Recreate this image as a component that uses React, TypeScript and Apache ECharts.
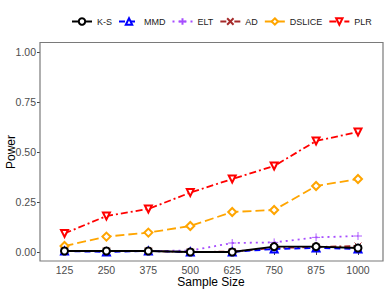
import React, { useEffect, useRef } from "react";
import * as echarts from "echarts";

const sampleSizes = ["125", "250", "375", "500", "625", "750", "875", "1000"];
const yTicks = [0, 0.25, 0.5, 0.75, 1];

const ksValues = [0.005, 0.005, 0.005, 0.0, 0.0, 0.027, 0.027, 0.02];
const mmdValues = [0.005, 0.0, 0.005, 0.0, 0.0, 0.015, 0.02, 0.015];
const eltValues = [0.005, 0.005, 0.005, 0.007, 0.045, 0.048, 0.073, 0.08];
const adValues = [0.005, 0.005, 0.005, 0.0, 0.002, 0.02, 0.025, 0.03];
const dsliceValues = [0.03, 0.077, 0.097, 0.13, 0.2, 0.21, 0.33, 0.365];
const plrValues = [0.093, 0.18, 0.215, 0.297, 0.365, 0.43, 0.555, 0.6];

const plusPath = "path://M5,0L5,10M0,5L10,5";
const crossPath = "path://M0,0L10,10M10,0L0,10";

export default function App() {
  const ref = useRef<HTMLDivElement>(null);
  useEffect(() => {
    if (!ref.current) return;
    const chart = echarts.init(ref.current, undefined, { renderer: "svg" });
    const mk = (
      name: string,
      data: number[],
      color: string,
      dash: number[] | "solid",
      symbol: string,
      extra: any = {}
    ) => ({
      name,
      type: "line",
      data,
      symbol,
      symbolSize: 7,
      showSymbol: true,
      lineStyle: { color, width: 1.8, type: dash },
      itemStyle: { color, borderColor: color, borderWidth: 0.9 },
      ...extra,
    });
    chart.setOption({
      animation: false,
      backgroundColor: "#ffffff",
      textStyle: { fontFamily: "Liberation Sans, Arial, sans-serif" },
      legend: {
        top: 12,
        left: 66,
        itemWidth: 20,
        itemHeight: 8,
        itemGap: 6,
        textStyle: { fontSize: 9, color: "#222" },
        data: ["K-S", "MMD", "ELT", "AD", "DSLICE", "PLR"],
      },
      grid: { left: 64.5, right: 30, top: 52, bottom: 39, outerBoundsMode: "none", containLabel: false },
      xAxis: {
        type: "category",
        data: sampleSizes,
        boundaryGap: false,
        offset: 9,
        axisLine: { show: false },
        axisTick: { show: true, length: 3, lineStyle: { color: "#444" } },
        axisLabel: { color: "#4d4d4d", fontSize: 10.5, margin: 3 },
        splitLine: { show: false },
      },
      yAxis: {
        type: "value",
        min: 0,
        max: 1,
        interval: 0.25,
        offset: 24.5,
        axisLine: { show: false },
        axisTick: { show: true, length: 3, lineStyle: { color: "#444" } },
        axisLabel: {
          color: "#4d4d4d",
          fontSize: 10.5,
          margin: 4,
          formatter: (v: number) => (yTicks.includes(v) ? v.toFixed(2) : ""),
        },
        splitLine: { show: false },
      },
      graphic: [
        {
          type: "rect",
          shape: { x: 40, y: 42.5, width: 343, height: 218.5 },
          style: { fill: "none", stroke: "#7a7a7a", lineWidth: 1.2 },
          silent: true,
          z: 100,
        },
        {
          type: "text",
          x: 211,
          y: 282,
          style: {
            text: "Sample Size",
            fill: "#000",
            fontSize: 12,
            fontFamily: "Liberation Sans, Arial, sans-serif",
            align: "center",
            verticalAlign: "middle",
          },
        },
        {
          type: "text",
          x: 11,
          y: 152,
          rotation: Math.PI / 2,
          style: {
            text: "Power",
            fill: "#000",
            fontSize: 12,
            fontFamily: "Liberation Sans, Arial, sans-serif",
            align: "center",
            verticalAlign: "middle",
          },
        },
      ],
      series: [
        mk("PLR", plrValues, "#ff0000", [7, 3, 2, 3], "emptyTriangle", { symbolRotate: 180, z: 2 }),
        mk("DSLICE", dsliceValues, "#ffa500", [9, 4], "emptyDiamond", { symbolSize: 8, z: 2 }),
        mk("ELT", eltValues, "#a64dff", [2, 4], plusPath, { symbolSize: 8, z: 2 }),
        mk("AD", adValues, "#a52a2a", [6, 3, 2, 3], crossPath, { z: 3 }),
        mk("MMD", mmdValues, "#0000ff", [6, 4], "emptyTriangle", { z: 4 }),
        mk("K-S", ksValues, "#000000", "solid", "emptyCircle", { z: 5 }),
      ],
    });
    return () => chart.dispose();
  }, []);
  return <div ref={ref} style={{ width: 388, height: 291, position: "absolute", left: 0, top: 0 }} />;
}
